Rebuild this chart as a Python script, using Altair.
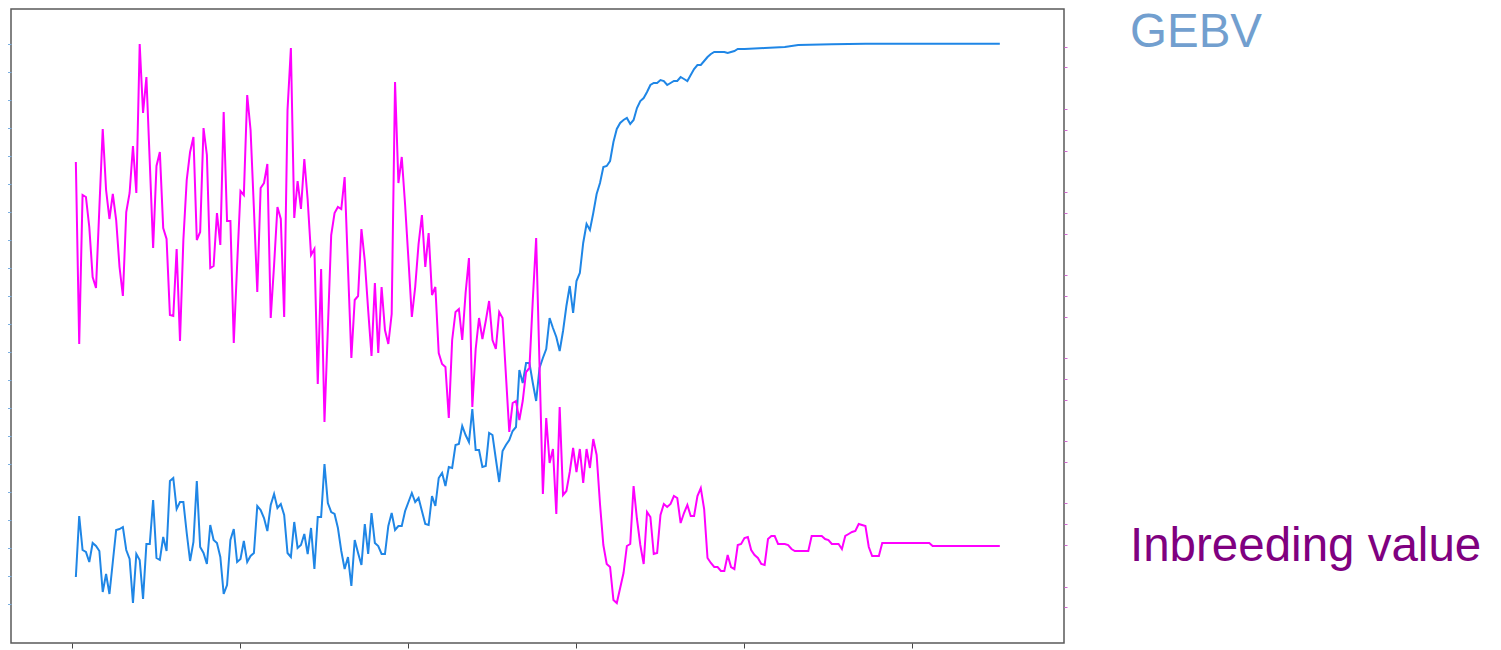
import altair as alt
import pandas as pd

# ---- data ----
gebv_gen = list(range(1, 201)) + [206, 212, 216, 226, 236, 276]
gebv_val = [
    6.6, 12.7, 9.3, 9.1, 8.1, 10.0, 9.7, 9.2, 5.1, 6.9,
    4.9, 8.1, 11.3, 11.4, 11.6, 9.3, 8.4, 4.0, 8.9, 8.3,
    4.4, 9.9, 9.9, 14.3, 8.5, 8.3, 10.6, 9.2, 16.2, 16.5,
    13.4, 14.1, 14.1, 11.0, 8.2, 10.1, 16.2, 9.6, 9.0, 7.9,
    11.8, 10.3, 10.0, 8.6, 4.9, 5.8, 10.3, 11.4, 8.1, 8.4,
    10.2, 8.1, 8.7, 9.0, 13.7, 13.3, 12.5, 11.2, 13.8, 14.9,
    13.5, 13.9, 12.8, 9.0, 8.6, 12.1, 9.5, 9.8, 10.9, 8.9,
    11.5, 7.4, 12.6, 12.6, 17.9, 14.0, 13.1, 12.9, 11.5, 9.2,
    7.4, 8.6, 5.7, 10.3, 9.0, 7.8, 11.9, 8.9, 13.0, 10.0,
    9.7, 8.9, 8.9, 11.7, 13.0, 11.3, 11.7, 11.7, 13.2, 14.1,
    15.0, 14.1, 14.5, 13.2, 11.9, 11.8, 14.7, 13.7, 16.5, 17.0,
    15.7, 17.6, 17.5, 19.8, 19.9, 21.7, 20.8, 20.1, 23.4, 19.3,
    19.3, 17.6, 17.7, 21.0, 20.8, 18.4, 16.1, 19.2, 19.8, 20.3,
    21.2, 21.6, 27.3, 26.0, 28.0, 28.0, 26.0, 24.2, 27.5, 28.5,
    29.4, 32.5, 31.5, 30.6, 29.2, 31.2, 33.7, 35.7, 33.0, 36.2,
    37.0, 40.0, 41.9, 41.3, 43.0, 44.9, 46.0, 47.6, 47.7, 48.2,
    50.1, 51.4, 52.0, 52.3, 52.5, 51.9, 52.3, 53.5, 54.2, 54.5,
    55.1, 55.8, 56.0, 56.0, 56.3, 56.2, 55.8, 56.0, 56.2, 56.2,
    56.6, 56.4, 56.2, 56.8, 57.4, 57.8, 57.8, 58.2, 58.6, 58.9,
    59.1, 59.1, 59.1, 59.1, 59.0, 59.1, 59.2, 59.4, 59.4, 59.4,
    59.5, 59.6, 59.8, 59.87, 59.93, 59.93,
]

inb_gen = list(range(1, 242)) + [255, 256, 276]
inb_val = [
    0.481, 0.299, 0.448, 0.446, 0.416, 0.366, 0.355, 0.435, 0.514, 0.453,
    0.424, 0.449, 0.423, 0.376, 0.347, 0.431, 0.450, 0.497, 0.450, 0.599,
    0.530, 0.566, 0.481, 0.395, 0.477, 0.491, 0.415, 0.404, 0.328, 0.327,
    0.394, 0.302, 0.403, 0.463, 0.491, 0.506, 0.403, 0.411, 0.515, 0.488,
    0.375, 0.377, 0.430, 0.398, 0.531, 0.422, 0.422, 0.300, 0.378, 0.452,
    0.448, 0.548, 0.513, 0.434, 0.351, 0.455, 0.460, 0.479, 0.325, 0.378,
    0.436, 0.424, 0.326, 0.533, 0.595, 0.425, 0.462, 0.434, 0.484, 0.443,
    0.388, 0.394, 0.259, 0.374, 0.221, 0.314, 0.408, 0.430, 0.436, 0.434,
    0.466, 0.375, 0.285, 0.343, 0.347, 0.414, 0.382, 0.333, 0.287, 0.360,
    0.290, 0.356, 0.313, 0.299, 0.329, 0.561, 0.460, 0.486, 0.438, 0.383,
    0.326, 0.356, 0.399, 0.428, 0.376, 0.410, 0.348, 0.356, 0.290, 0.279,
    0.276, 0.225, 0.303, 0.331, 0.334, 0.303, 0.350, 0.385, 0.236, 0.294,
    0.325, 0.304, 0.322, 0.342, 0.303, 0.294, 0.331, 0.325, 0.268, 0.211,
    0.240, 0.242, 0.223, 0.242, 0.271, 0.275, 0.343, 0.405, 0.278, 0.149,
    0.225, 0.180, 0.194, 0.129, 0.236, 0.148, 0.152, 0.171, 0.195, 0.171,
    0.194, 0.160, 0.194, 0.175, 0.204, 0.188, 0.139, 0.098, 0.079, 0.076,
    0.043, 0.040, 0.055, 0.070, 0.097, 0.099, 0.157, 0.124, 0.098, 0.079,
    0.131, 0.126, 0.089, 0.090, 0.128, 0.139, 0.136, 0.139, 0.147, 0.145,
    0.120, 0.130, 0.138, 0.127, 0.127, 0.147, 0.155, 0.134, 0.085, 0.080,
    0.076, 0.076, 0.072, 0.072, 0.088, 0.076, 0.074, 0.098, 0.099, 0.105,
    0.106, 0.093, 0.088, 0.085, 0.079, 0.078, 0.104, 0.107, 0.107, 0.099,
    0.099, 0.099, 0.098, 0.094, 0.092, 0.092, 0.092, 0.092, 0.092, 0.107,
    0.107, 0.107, 0.107, 0.104, 0.103, 0.099, 0.099, 0.099, 0.094, 0.107,
    0.109, 0.111, 0.112, 0.119, 0.118, 0.117, 0.096, 0.087, 0.087, 0.087,
    0.100,
    0.100, 0.097, 0.097,
]

x_ticks = [0, 50, 100, 150, 200, 250]
gebv_ticks = [59.87 - 2.8 * k for k in range(21)]
inb_ticks = [0.5963, 0.5755, 0.534, 0.5133, 0.4925, 0.451, 0.4302, 0.4095,
             0.368, 0.3472, 0.3264, 0.285, 0.2641, 0.2434, 0.202, 0.1811,
             0.1396, 0.1188, 0.098, 0.0565, 0.0358]

labels = ["GEBV", "Inbreeding value"]

gebv_df = pd.DataFrame({"gen": gebv_gen, "v": gebv_val})
inb_df = pd.DataFrame({"gen": inb_gen, "v": inb_val})

x_enc = alt.X("gen:Q",
              scale=alt.Scale(domain=[-18.3, 295.1], nice=False, zero=False),
              axis=alt.Axis(values=x_ticks, labels=False, ticks=True, tickSize=5,
                            tickColor="#444444", tickWidth=1, domain=False,
                            grid=False, title=None, orient="bottom"))

blue = alt.Chart(gebv_df).mark_line(color="#1f86e6", strokeWidth=2, clip=True).encode(
    x=x_enc,
    y=alt.Y("v:Q", scale=alt.Scale(domain=[0, 63.4], nice=False, zero=False),
            axis=alt.Axis(values=gebv_ticks, labels=False, ticks=True, tickSize=4,
                          tickColor="#7aaee0", tickWidth=1, domain=False, grid=False,
                          title=None, orient="left")),
)

mag = alt.Chart(inb_df).mark_line(color="#ff00ff", strokeWidth=2, clip=True).encode(
    x=x_enc,
    y=alt.Y("v:Q", scale=alt.Scale(domain=[0, 0.634], nice=False, zero=False),
            axis=alt.Axis(values=inb_ticks, labels=False, ticks=True, tickSize=3,
                          tickColor="#d468d4", tickWidth=1, domain=False, grid=False,
                          title=None, orient="right")),
)

t1 = alt.Chart(pd.DataFrame({"t": [labels[0]]})).mark_text(
    align="left", baseline="alphabetic", fontSize=47.5, font="Liberation Sans",
    color="#729fcf").encode(text="t:N", x=alt.value(1119), y=alt.value(37.5))

t2 = alt.Chart(pd.DataFrame({"t": [labels[1]]})).mark_text(
    align="left", baseline="alphabetic", fontSize=47.5, font="Liberation Sans",
    color="#800080").encode(text="t:N", x=alt.value(1119), y=alt.value(552))

chart = alt.layer(blue, mag, t1, t2).resolve_scale(y="independent").properties(
    width=1053, height=634,
    autosize=alt.AutoSizeParams(type="none"),
    padding={"left": 3, "top": 1, "right": 425, "bottom": 6},
    background="white",
).configure_view(stroke="#5a5a5a", strokeWidth=1.5)

chart.save("out.html", embed_options={"renderer": "svg", "actions": False})
